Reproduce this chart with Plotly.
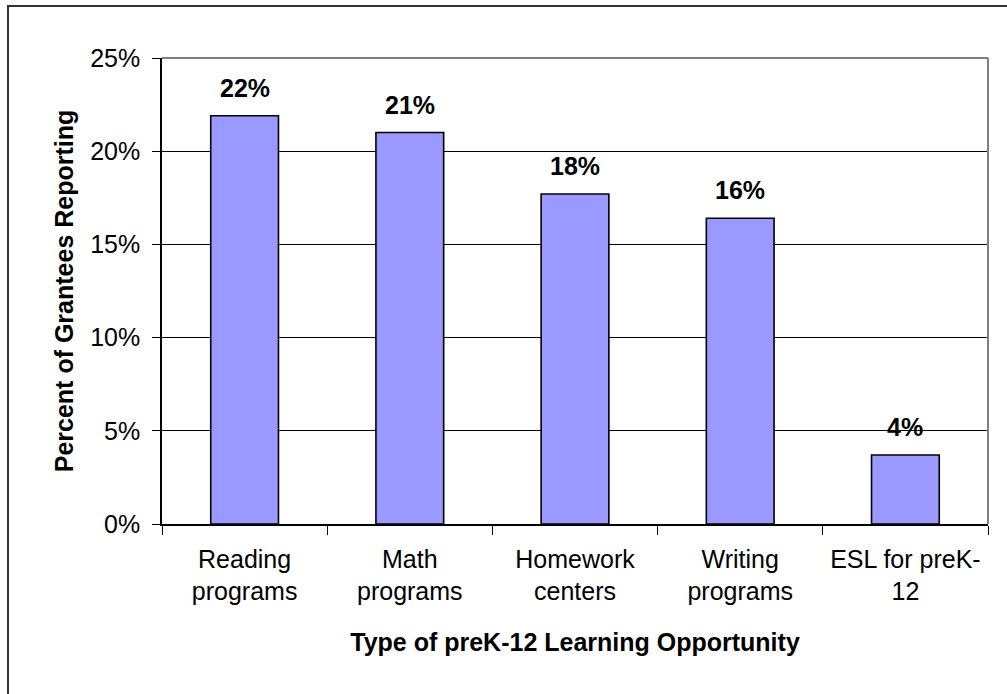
import plotly.graph_objects as go

# Survey results: share of grantees reporting each preK-12 learning opportunity
categories = ["Reading<br>programs", "Math<br>programs", "Homework<br>centers",
              "Writing<br>programs", "ESL for preK-<br>12"]
shares = [0.219, 0.210, 0.177, 0.164, 0.037]
y_ticks = [0, 0.05, 0.10, 0.15, 0.20, 0.25]
y_tick_text = ["0%", "5%", "10%", "15%", "20%", "25%"]

FONT = "Liberation Sans, Arial, sans-serif"
FS = 25

W, H = 1007, 694
M_L, M_R, M_T, M_B = 162, 19, 58, 170
PW, PH = W - M_L - M_R, H - M_T - M_B

fig = go.Figure()
fig.add_trace(go.Bar(
    x=categories,
    y=shares,
    marker=dict(color="#9999FF", line=dict(color="#000000", width=1.6)),
    hoverinfo="skip",
))

# value labels above each bar
for cat, val in zip(categories, shares):
    fig.add_annotation(
        x=cat, y=val, xref="x", yref="y",
        text=f"<b>{val:.0%}</b>",
        showarrow=False, yanchor="bottom", yshift=12,
        font=dict(family=FONT, size=FS, color="#000000"),
    )

# gray frame on top and right of the plotting area
fig.add_shape(type="line", xref="paper", yref="paper", x0=0, x1=1, y0=1, y1=1,
              line=dict(color="#808080", width=2), layer="above")
fig.add_shape(type="line", xref="paper", yref="paper", x0=1, x1=1, y0=0, y1=1,
              line=dict(color="#808080", width=2), layer="above")

# outer chart border
fig.add_shape(type="rect", xref="paper", yref="paper",
              x0=(8 - M_L) / PW, x1=(W + 20 - M_L) / PW,
              y0=-(H + 20 - M_T - PH) / PH, y1=1 + (M_T - 6) / PH,
              line=dict(color="#333333", width=2), layer="above")

fig.update_layout(
    width=W, height=H,
    margin=dict(l=M_L, r=M_R, t=M_T, b=M_B, pad=0),
    paper_bgcolor="#FFFFFF", plot_bgcolor="#FFFFFF",
    bargap=0.59,
    showlegend=False,
    font=dict(family=FONT, size=FS, color="#000000"),
    xaxis=dict(
        tickson="boundaries", ticks="outside", ticklen=9, tickwidth=1,
        tickcolor="#000000",
        ticklabelstandoff=12,
        showline=True, linecolor="#000000", linewidth=1.5,
        showgrid=False,
        tickfont=dict(family=FONT, size=FS),
        title=dict(text="<b>Type of preK-12 Learning Opportunity</b>",
                   font=dict(family=FONT, size=FS), standoff=29),
    ),
    yaxis=dict(
        range=[0, 0.25],
        tickvals=y_ticks, ticktext=y_tick_text,
        ticks="outside", ticklen=8, tickwidth=1, tickcolor="#000000",
        ticklabelstandoff=7,
        showline=True, linecolor="#000000", linewidth=1.5,
        showgrid=True, gridcolor="#000000", gridwidth=1,
        zeroline=False,
        tickfont=dict(family=FONT, size=FS),
        title=dict(text="<b>Percent of Grantees Reporting</b>",
                   font=dict(family=FONT, size=FS), standoff=9),
    ),
)

fig.write_html("out.html")
